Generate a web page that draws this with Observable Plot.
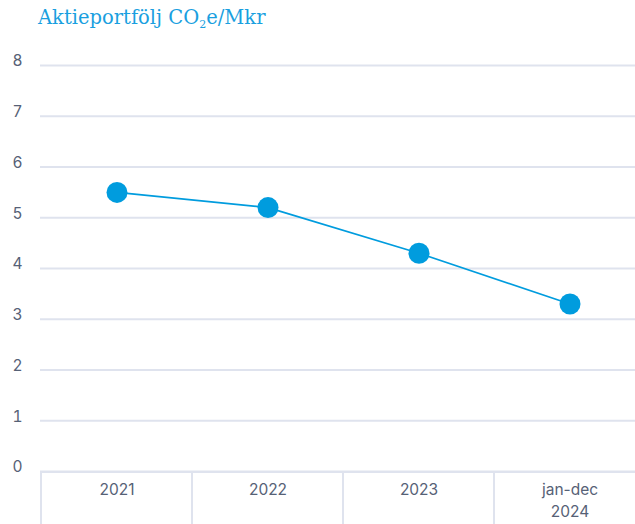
<!DOCTYPE html>
<html><head><meta charset="utf-8">
<script src="https://cdn.jsdelivr.net/npm/d3@7"></script>
<script src="https://cdn.jsdelivr.net/npm/@observablehq/plot@0.6"></script>
<style>
body{margin:0;background:#fff;}
#title{height:40px;box-sizing:border-box;padding:7px 0 0 38px;font-family:"DejaVu Serif",serif;font-size:19.5px;color:#1a9fe0;line-height:22px;}
#title sub{font-size:11px;vertical-align:-4px;line-height:0;}
svg{display:block;}
</style></head>
<body>
<div id="title">Aktieportfölj CO<sub>2</sub>e/Mkr</div>
<div id="chart"></div>
<script>
const categories = ["2021", "2022", "2023", "jan-dec\n2024"];
const values = [5.5, 5.2, 4.3, 3.3];
const yTicks = [0, 1, 2, 3, 4, 5, 6, 7, 8];

const data = categories.map((c, i) => ({cat: c, v: values[i]}));
const W = 635, H = 484, MT = 25, MB = 53, ML = 40;
const gridColor = "#dfe3ee";
const blue = "#009cde";
const textColor = "#566176";

const boxMark = (index, scales, vals, dims) => {
  const g = d3.create("svg:g");
  const bw = scales.x.bandwidth();
  for (const c of categories) {
    g.append("rect")
      .attr("x", scales.x(c))
      .attr("y", dims.height - dims.marginBottom + 1)
      .attr("width", bw)
      .attr("height", dims.marginBottom + 10)
      .attr("fill", "none")
      .attr("stroke", gridColor)
      .attr("stroke-width", 2);
  }
  return g.node();
};

const chart = Plot.plot({
  width: W, height: H,
  marginTop: MT, marginBottom: MB, marginLeft: ML, marginRight: 0,
  style: {fontFamily: "Inter, sans-serif", fontSize: "15.5px", color: textColor, background: "#fff"},
  x: {type: "band", domain: categories, range: [40, 646], padding: 0, label: null},
  y: {domain: [0, 8], ticks: yTicks, label: null, tickFormat: d3.format("d")},
  marks: [
    Plot.gridY(yTicks, {stroke: gridColor, strokeOpacity: 1, strokeWidth: 2}),
    boxMark,
    Plot.axisY(yTicks, {tickSize: 0, tickPadding: 18, dy: -4, fill: textColor, fontSize: 15.5, tickFormat: d3.format("d"), label: null}),
    Plot.axisX({tickSize: 0, tickPadding: 8, lineAnchor: "top", lineHeight: 1.4, fill: textColor, fontSize: 15.5, label: null}),
    Plot.line(data, {x: "cat", y: "v", stroke: blue, strokeWidth: 1.7}),
    Plot.dot(data, {x: "cat", y: "v", r: 10.5, fill: blue, stroke: "none"})
  ]
});
document.getElementById("chart").append(chart);
</script>
</body></html>
